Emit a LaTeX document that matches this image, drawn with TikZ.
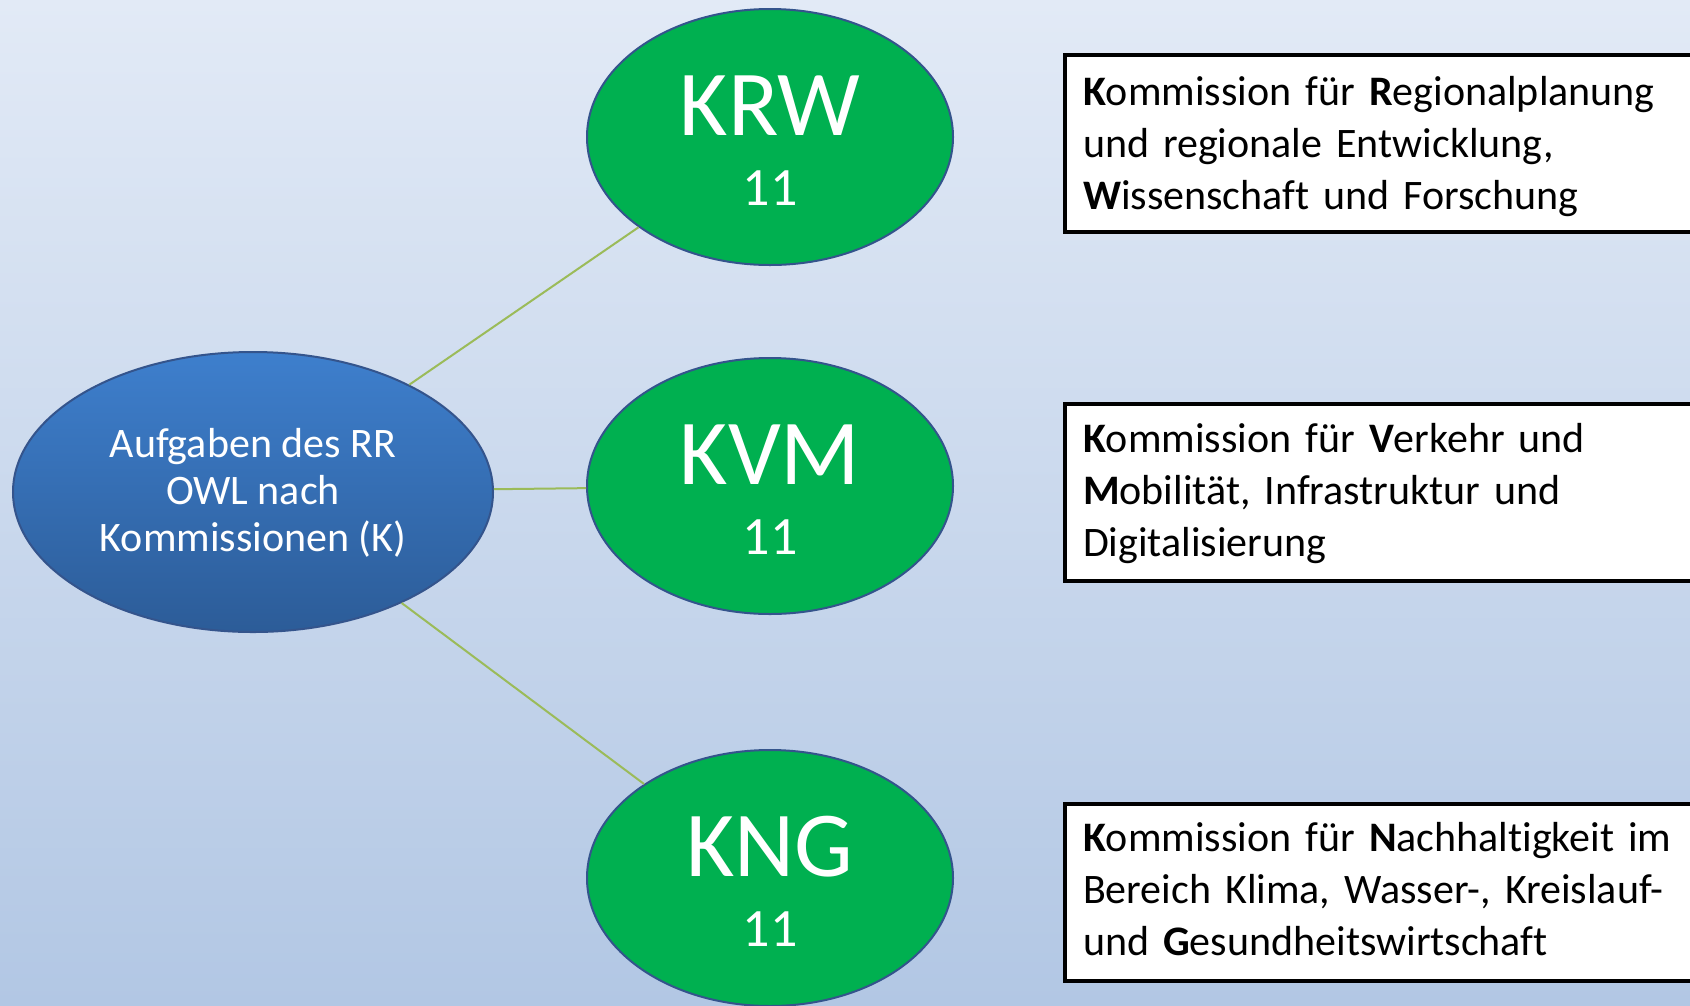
\documentclass[tikz,border=0pt]{standalone}
\usepackage{fontspec}
\setmainfont{Carlito}[Ligatures={NoCommon}]
\usetikzlibrary{shapes.geometric}
\definecolor{bgtop}{RGB}{226,234,246}
\definecolor{bgbot}{RGB}{178,199,228}
\definecolor{gfill}{RGB}{0,176,80}
\definecolor{eline}{RGB}{52,84,140}
\definecolor{btop}{RGB}{62,127,205}
\definecolor{bbot}{RGB}{44,92,152}
\definecolor{connc}{RGB}{155,187,89}
\newcommand{\topstrut}[1]{\rule{0pt}{#1}}
\newcommand{\botstrut}[1]{\rule[-#1]{0pt}{#1}}
\begin{document}
\begin{tikzpicture}[x=1pt,y=-1pt,
  owlell/.style={ellipse, draw=eline, line width=2pt, top color=btop, middle color=bbot!92!btop, bottom color=bbot,
    minimum width=480pt, minimum height=280pt, inner sep=0pt, text=white, align=center,
    font=\fontsize{42}{47}\selectfont},
  gell/.style={ellipse, draw=eline, line width=2pt, fill=gfill, minimum width=366pt, minimum height=256pt, inner sep=0pt},
  abbr/.style={text=white, font=\fontsize{93}{93}\selectfont, anchor=base, inner sep=0pt},
  num/.style={text=white, font=\fontsize{54}{54}\selectfont, anchor=base, inner sep=0pt},
  descbox/.style={draw=black, line width=4pt, fill=white, anchor=north west, minimum height=177pt,
    text width=680pt, inner xsep=18pt, inner ysep=0pt, align=left, font=\fontsize{42}{52}\selectfont},
  conn/.style={draw=connc, line width=2pt}
]
\useasboundingbox (0,0) rectangle (1690,1005);
\clip (0,0) rectangle (1690,1005);
\shade[top color=bgtop, bottom color=bgbot] (0,0) rectangle (1690,1005);

\node[owlell] (owl) at (253,492) {\topstrut{35pt}Aufgaben des RR\\OWL nach\\Kommissionen (K)\botstrut{10pt}};

\node[gell] (krw) at (770,137) {};
\node[gell] (kvm) at (770,486) {};
\node[gell] (kng) at (770,878) {};

\draw[conn] (owl) -- (krw);
\draw[conn] (owl) -- (kvm);
\draw[conn] (owl) -- (kng);

\node[abbr] (krwt) at ([yshift=2pt]krw.center) {KRW};
\node[num]  (krwn) at ([yshift=-68pt]krw.center) {11};
\node[abbr] (kvmt) at ([yshift=2pt]kvm.center) {KVM};
\node[num]  (kvmn) at ([yshift=-68pt]kvm.center) {11};
\node[abbr] (kngt) at ([yshift=2pt]kng.center) {KNG};
\node[num]  (kngn) at ([yshift=-68pt]kng.center) {11};

\node[descbox] (b1) at (1063,53) {\topstrut{50pt}\textbf{K}ommission für \textbf{R}egionalplanung\\und regionale Entwicklung,\\\textbf{W}issenschaft und Forschung\botstrut{23pt}};
\node[descbox] (b2) at (1063,402) {\topstrut{48pt}\textbf{K}ommission für \textbf{V}erkehr und\\\textbf{M}obilität, Infrastruktur und\\Digitalisierung\botstrut{25pt}};
\node[descbox] (b3) at (1063,802) {\topstrut{47pt}\textbf{K}ommission für \textbf{N}achhaltigkeit im\\Bereich Klima, Wasser-, Kreislauf-\\und \textbf{G}esundheitswirtschaft\botstrut{26pt}};
\end{tikzpicture}
\end{document}
